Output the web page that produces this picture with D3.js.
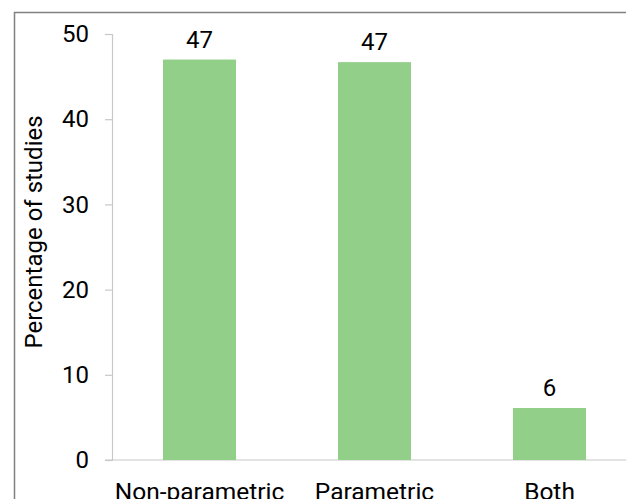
<!DOCTYPE html>
<html>
<head>
<meta charset="utf-8">
<script src="https://cdn.jsdelivr.net/npm/d3@7"></script>
<style>
  html, body { margin: 0; padding: 0; background: #fff; }
  svg text { font-family: "Roboto", "Noto Sans", sans-serif; }
</style>
</head>
<body>
<svg id="chart" width="626" height="499"></svg>
<script>
// Share of studies by analysis approach
const categories = ["Non-parametric", "Parametric", "Both"];
const values = [47.0, 46.7, 6.1];
const yTicks = [0, 10, 20, 30, 40, 50];

const FONT = "Roboto, 'Noto Sans', sans-serif";
const INK = "#000";
const svg = d3.select("#chart");
const W = 626, H = 499;

// plot area (runs past the right edge of the page)
const plot = { left: 112, top: 34, bottom: 460, width: 525 };

const x = d3.scaleBand()
  .domain(categories)
  .range([plot.left, plot.left + plot.width])
  .paddingInner(0.583)
  .paddingOuter(0.2915);

const y = d3.scaleLinear()
  .domain([0, 50])
  .range([plot.bottom, plot.top]);

// outer chart frame
svg.append("rect")
  .attr("x", 14.5).attr("y", 12.5)
  .attr("width", W + 20).attr("height", H + 20)
  .attr("fill", "none")
  .attr("stroke", "#808080")
  .attr("stroke-width", 1.5);

// y axis
const yAxis = d3.axisLeft(y)
  .tickValues(yTicks)
  .tickSize(7)
  .tickPadding(16)
  .tickFormat(d3.format("d"));

const gy = svg.append("g")
  .attr("transform", `translate(${plot.left},0)`)
  .call(yAxis)
  .attr("font-family", FONT);
gy.select(".domain").attr("stroke", "#c8c8c8").attr("stroke-width", 1.2);
gy.selectAll(".tick line").attr("stroke", "#c8c8c8").attr("stroke-width", 1.2);
gy.selectAll(".tick text")
  .attr("fill", INK)
  .style("font-family", FONT)
  .style("font-size", "24px");

// x axis
const xAxis = d3.axisBottom(x).tickSize(0).tickPadding(23);
const gx = svg.append("g")
  .attr("transform", `translate(0,${plot.bottom})`)
  .call(xAxis)
  .attr("font-family", FONT);
gx.select(".domain").remove();
gx.selectAll(".tick text")
  .attr("fill", INK)
  .style("font-family", FONT)
  .style("font-size", "24.5px");
svg.append("line")
  .attr("x1", plot.left - 7).attr("x2", W + 10)
  .attr("y1", plot.bottom).attr("y2", plot.bottom)
  .attr("stroke", "#c8c8c8").attr("stroke-width", 1.2);

// bars
svg.append("g").selectAll("rect")
  .data(values)
  .join("rect")
  .attr("x", (d, i) => x(categories[i]))
  .attr("width", x.bandwidth())
  .attr("y", d => y(d))
  .attr("height", d => y(0) - y(d))
  .attr("fill", "#92cf88");

// value labels
svg.append("g").selectAll("text")
  .data(values)
  .join("text")
  .attr("x", (d, i) => x(categories[i]) + x.bandwidth() / 2)
  .attr("y", d => y(d) - 12)
  .attr("text-anchor", "middle")
  .attr("fill", INK)
  .style("font-family", FONT)
  .style("font-size", "24px")
  .text(d => d3.format(".0f")(d));

// y axis title
svg.append("text")
  .attr("transform", `translate(42,${232}) rotate(-90)`)
  .attr("text-anchor", "middle")
  .attr("fill", INK)
  .style("font-family", FONT)
  .style("font-size", "24px")
  .text("Percentage of studies");
</script>
</body>
</html>
